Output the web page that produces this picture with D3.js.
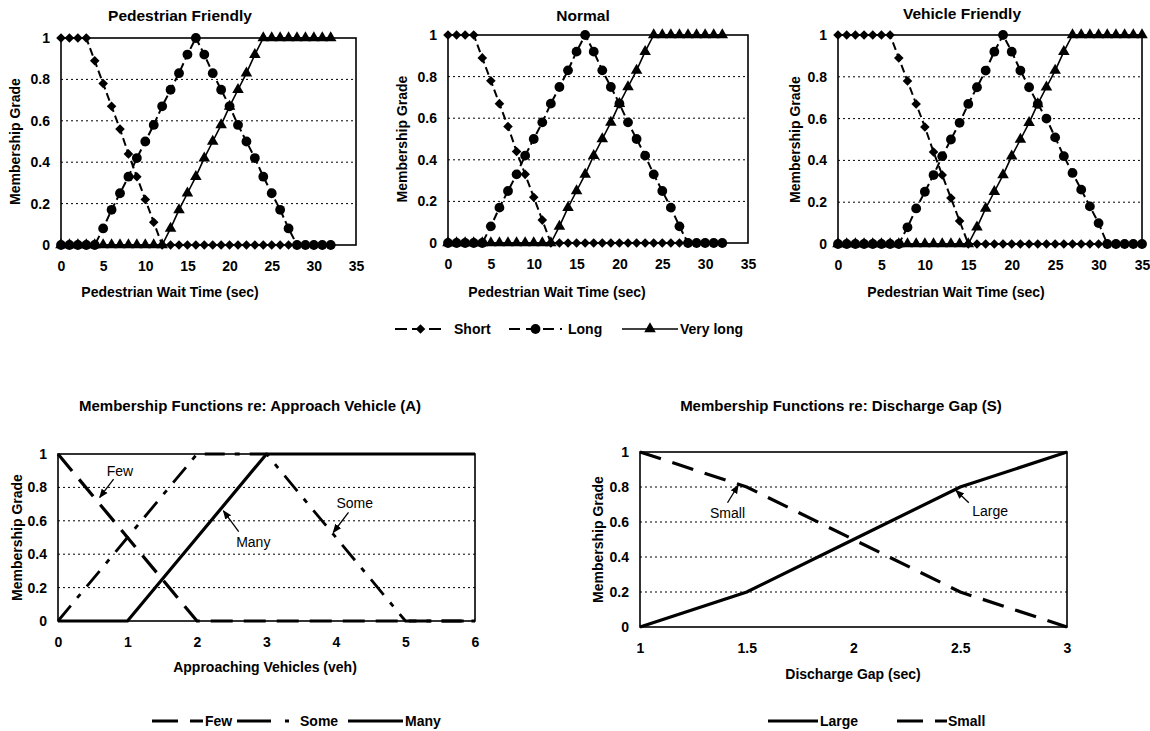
<!DOCTYPE html>
<html>
<head>
<meta charset="utf-8">
<script src="https://cdn.jsdelivr.net/npm/d3@7"></script>
<style>
  body { margin: 0; background: #fff; }
  svg { display: block; font-family: "Liberation Sans", Arial, sans-serif; }
</style>
</head>
<body>
<script>
// ---- data ----
const waitTimes32 = [0,1,2,3,4,5,6,7,8,9,10,11,12,13,14,15,16,17,18,19,20,21,22,23,24,25,26,27,28,29,30,31,32];
const waitTimes35 = [0,1,2,3,4,5,6,7,8,9,10,11,12,13,14,15,16,17,18,19,20,21,22,23,24,25,26,27,28,29,30,31,32,33,34,35];
const waitTicks = [0,5,10,15,20,25,30,35];
const gradeTicks = [0,0.2,0.4,0.6,0.8,1];
const gridTicks = [0.2,0.4,0.6,0.8];

// Pedestrian Friendly
const pfShort = [1,1,1,1,0.89,0.78,0.67,0.56,0.44,0.33,0.22,0.11,0,0,0,0,0,0,0,0,0,0,0,0,0,0,0,0,0,0,0,0,0];
const pfLong = [0,0,0,0,0,0.08,0.17,0.25,0.33,0.42,0.5,0.58,0.67,0.75,0.83,0.92,1,0.92,0.83,0.75,0.67,0.58,0.5,0.42,0.33,0.25,0.17,0.08,0,0,0,0,0];
const pfVeryLong = [0,0,0,0,0,0,0,0,0,0,0,0,0,0.08,0.17,0.25,0.33,0.42,0.5,0.58,0.67,0.75,0.83,0.92,1,1,1,1,1,1,1,1,1];

// Normal
const nmShort = [1,1,1,1,0.89,0.78,0.67,0.56,0.44,0.33,0.22,0.11,0,0,0,0,0,0,0,0,0,0,0,0,0,0,0,0,0,0,0,0,0];
const nmLong = [0,0,0,0,0,0.08,0.17,0.25,0.33,0.42,0.5,0.58,0.67,0.75,0.83,0.92,1,0.92,0.83,0.75,0.67,0.58,0.5,0.42,0.33,0.25,0.17,0.08,0,0,0,0,0];
const nmVeryLong = [0,0,0,0,0,0,0,0,0,0,0,0,0,0.08,0.17,0.25,0.33,0.42,0.5,0.58,0.67,0.75,0.83,0.92,1,1,1,1,1,1,1,1,1];

// Vehicle Friendly
const vfShort = [1,1,1,1,1,1,1,0.89,0.78,0.67,0.56,0.44,0.33,0.22,0.11,0,0,0,0,0,0,0,0,0,0,0,0,0,0,0,0,0,0,0,0,0];
const vfLong = [0,0,0,0,0,0,0,0,0.08,0.17,0.25,0.33,0.42,0.5,0.58,0.67,0.75,0.83,0.92,1,0.92,0.83,0.75,0.67,0.6,0.51,0.42,0.34,0.26,0.18,0.1,0,0,0,0,0];
const vfVeryLong = [0,0,0,0,0,0,0,0,0,0,0,0,0,0,0,0,0.08,0.17,0.25,0.33,0.42,0.5,0.58,0.67,0.75,0.83,0.92,1,1,1,1,1,1,1,1,1];

// Approach vehicles
const vehCounts = [0,1,2,3,4,5,6];
const fewGrade = [1,0.5,0,0,0,0,0];
const someGrade = [0,0.5,1,1,0.5,0,0];
const manyGrade = [0,0,0.5,1,1,1,1];

// Discharge gap
const gapSecs = [1,1.5,2,2.5,3];
const gapTicks = [1,1.5,2,2.5,3];
const largeGrade = [0,0.2,0.5,0.8,1];
const smallGrade = [1,0.8,0.5,0.2,0];

const width = 1150, height = 731;
const svg = d3.select("body").append("svg").attr("width", width).attr("height", height);

const defs = svg.append("defs");
defs.append("marker")
  .attr("id", "arrow")
  .attr("viewBox", "0 0 10 10")
  .attr("refX", 9).attr("refY", 5)
  .attr("markerWidth", 7).attr("markerHeight", 7)
  .attr("orient", "auto")
  .append("path").attr("d", "M0,1 L10,5 L0,9 Z").attr("fill", "#000");

function frame(g, x, y, box, xTicks, xFmt) {
  g.append("g").selectAll("line").data(gridTicks).join("line")
    .attr("x1", box.left).attr("x2", box.right)
    .attr("y1", d => y(d)).attr("y2", d => y(d))
    .attr("stroke", "#000").attr("stroke-width", 1).attr("stroke-dasharray", "2,3");

  g.append("rect")
    .attr("x", box.left).attr("y", box.top)
    .attr("width", box.right - box.left).attr("height", box.bottom - box.top)
    .attr("fill", "none").attr("stroke", "#000").attr("stroke-width", 1.6);

  const ax = g.append("g").attr("transform", `translate(0,${box.bottom})`)
    .call(d3.axisBottom(x).tickValues(xTicks).tickSize(0).tickPadding(box.xPad).tickFormat(xFmt));
  const ay = g.append("g").attr("transform", `translate(${box.left},0)`)
    .call(d3.axisLeft(y).tickValues(gradeTicks).tickSize(0).tickPadding(box.yPad).tickFormat(d => String(d)));
  [ax, ay].forEach(a => {
    a.select(".domain").remove();
    a.selectAll("text").attr("font-size", 14).attr("font-weight", "bold").attr("fill", "#000")
      .attr("font-family", "Liberation Sans, Arial, sans-serif");
  });

  g.append("text")
    .attr("x", box.titleX).attr("y", box.titleY)
    .attr("text-anchor", "middle").attr("font-size", box.titleSize).attr("font-weight", "bold")
    .text(box.title);
  g.append("text")
    .attr("x", box.xTitleX).attr("y", box.xTitleY)
    .attr("text-anchor", "middle").attr("font-size", 14).attr("font-weight", "bold")
    .text(box.xTitle);
  g.append("text")
    .attr("transform", `translate(${box.yTitleX},${(box.top + box.bottom) / 2}) rotate(-90)`)
    .attr("text-anchor", "middle").attr("dy", "0.35em").attr("font-size", 14).attr("font-weight", "bold")
    .text("Membership Grade");
}

const diamond = d3.symbol().type(d3.symbolSquare).size(46);
const triangle = d3.symbol().type(d3.symbolTriangle).size(58);

function drawMarker(sel, kind) {
  if (kind === "circle") {
    sel.append("circle").attr("r", 4.9).attr("fill", "#000");
  } else if (kind === "diamond") {
    sel.append("path").attr("d", diamond()).attr("transform", "rotate(45)").attr("fill", "#000");
  } else {
    sel.append("path").attr("d", triangle()).attr("fill", "#000");
  }
}

const topPanels = [
  { title: "Pedestrian Friendly", xs: waitTimes32, short: pfShort, long: pfLong, veryLong: pfVeryLong,
    left: 61, right: 356, top: 38, bottom: 245, titleX: 180, titleY: 21, xTitleX: 170, yTitleX: 15 },
  { title: "Normal", xs: waitTimes32, short: nmShort, long: nmLong, veryLong: nmVeryLong,
    left: 448, right: 748, top: 35, bottom: 243, titleX: 583, titleY: 21, xTitleX: 557, yTitleX: 402 },
  { title: "Vehicle Friendly", xs: waitTimes35, short: vfShort, long: vfLong, veryLong: vfVeryLong,
    left: 838, right: 1142, top: 35, bottom: 244, titleX: 962, titleY: 19, xTitleX: 956, yTitleX: 795 }
];

topPanels.forEach(p => {
  const g = svg.append("g");
  const x = d3.scaleLinear().domain([0, 35]).range([p.left, p.right]);
  const y = d3.scaleLinear().domain([0, 1]).range([p.bottom, p.top]);
  frame(g, x, y, Object.assign({ xPad: 16, yPad: 11, xTitleY: 297, titleSize: 15.5,
    xTitle: "Pedestrian Wait Time (sec)" }, p), waitTicks, d => d);

  const series = [
    { vals: p.short, marker: "diamond", dash: "8,4", w: 2 },
    { vals: p.long, marker: "circle", dash: "8,4", w: 2 },
    { vals: p.veryLong, marker: "triangle", dash: null, w: 1.6 }
  ];
  series.forEach(s => {
    const pts = p.xs.map((t, i) => [t, s.vals[i]]);
    g.append("path")
      .attr("d", d3.line().x(d => x(d[0])).y(d => y(d[1]))(pts))
      .attr("fill", "none").attr("stroke", "#000").attr("stroke-width", s.w)
      .attr("stroke-dasharray", s.dash);
    g.append("g").selectAll("g").data(pts).join("g")
      .attr("transform", d => `translate(${x(d[0])},${y(d[1])})`)
      .each(function () { drawMarker(d3.select(this), s.marker); });
  });
});

// top legend
const topLegend = [
  { label: "Short", marker: "diamond", dash: "12,5", x0: 395, x1: 446, tx: 454 },
  { label: "Long", marker: "circle", dash: "11,6", x0: 509, x1: 562, tx: 568 },
  { label: "Very long", marker: "triangle", dash: null, x0: 622, x1: 678, tx: 680 }
];
topLegend.forEach(l => {
  const g = svg.append("g");
  g.append("line").attr("x1", l.x0).attr("x2", l.x1).attr("y1", 329).attr("y2", 329)
    .attr("stroke", "#000").attr("stroke-width", l.dash ? 2 : 1.6).attr("stroke-dasharray", l.dash);
  const m = g.append("g").attr("transform", `translate(${(l.x0 + l.x1) / 2},329)`);
  drawMarker(m, l.marker);
  g.append("text").attr("x", l.tx).attr("y", 329).attr("dy", "0.35em")
    .attr("font-size", 14).attr("font-weight", "bold").text(l.label);
});

// ---- bottom panels ----
function annotate(g, x, y, notes) {
  notes.forEach(n => {
    g.append("text").attr("x", x(n.tx)).attr("y", y(n.ty)).attr("dy", "0.35em")
      .attr("text-anchor", "middle").attr("font-size", 14).text(n.text);
    g.append("line")
      .attr("x1", x(n.ax0)).attr("y1", y(n.ay0)).attr("x2", x(n.ax1)).attr("y2", y(n.ay1))
      .attr("stroke", "#000").attr("stroke-width", 1.3).attr("marker-end", "url(#arrow)");
  });
}

// Approach vehicle
{
  const box = { left: 58, right: 475, top: 454, bottom: 621, xPad: 16, yPad: 11,
    title: "Membership Functions  re: Approach Vehicle (A)", titleX: 250, titleY: 411, titleSize: 15,
    xTitle: "Approaching Vehicles (veh)", xTitleX: 265, xTitleY: 672, yTitleX: 17 };
  const g = svg.append("g");
  const x = d3.scaleLinear().domain([0, 6]).range([box.left, box.right]);
  const y = d3.scaleLinear().domain([0, 1]).range([box.bottom, box.top]);
  frame(g, x, y, box, vehCounts, d => d);
  const series = [
    { vals: fewGrade, dash: "22,11", w: 3.2 },
    { vals: someGrade, dash: "20,10,5,10", w: 2.8 },
    { vals: manyGrade, dash: null, w: 3.2 }
  ];
  series.forEach(s => {
    g.append("path")
      .attr("d", d3.line().x((d, i) => x(vehCounts[i])).y(d => y(d))(s.vals))
      .attr("fill", "none").attr("stroke", "#000").attr("stroke-width", s.w)
      .attr("stroke-dasharray", s.dash);
  });
  annotate(g, x, y, [
    { text: "Few", tx: 0.89, ty: 0.9, ax0: 0.8, ay0: 0.85, ax1: 0.6, ay1: 0.74 },
    { text: "Many", tx: 2.81, ty: 0.47, ax0: 2.6, ay0: 0.535, ax1: 2.38, ay1: 0.66 },
    { text: "Some", tx: 4.27, ty: 0.705, ax0: 4.18, ay0: 0.65, ax1: 3.96, ay1: 0.53 }
  ]);

  const legend = [
    { label: "Few", dash: "26,12", w: 3.2, x0: 152, x1: 203, tx: 205 },
    { label: "Some", dash: "34,14,4,30", w: 3.2, x0: 237, x1: 292, tx: 300 },
    { label: "Many", dash: null, w: 3.2, x0: 348, x1: 403, tx: 405 }
  ];
  legend.forEach(l => {
    g.append("line").attr("x1", l.x0).attr("x2", l.x1).attr("y1", 721).attr("y2", 721)
      .attr("stroke", "#000").attr("stroke-width", l.w).attr("stroke-dasharray", l.dash);
    g.append("text").attr("x", l.tx).attr("y", 721).attr("dy", "0.35em")
      .attr("font-size", 14).attr("font-weight", "bold").text(l.label);
  });
}

// Discharge gap
{
  const box = { left: 640, right: 1067, top: 452, bottom: 627, xPad: 16, yPad: 11,
    title: "Membership Functions  re: Discharge Gap (S)", titleX: 841, titleY: 411, titleSize: 15,
    xTitle: "Discharge Gap (sec)", xTitleX: 853, xTitleY: 679, yTitleX: 598 };
  const g = svg.append("g");
  const x = d3.scaleLinear().domain([1, 3]).range([box.left, box.right]);
  const y = d3.scaleLinear().domain([0, 1]).range([box.bottom, box.top]);
  frame(g, x, y, box, gapTicks, d => String(d));
  const series = [
    { vals: largeGrade, dash: null, w: 3.2 },
    { vals: smallGrade, dash: "22,12", w: 3.2 }
  ];
  series.forEach(s => {
    g.append("path")
      .attr("d", d3.line().x((d, i) => x(gapSecs[i])).y(d => y(d))(s.vals))
      .attr("fill", "none").attr("stroke", "#000").attr("stroke-width", s.w)
      .attr("stroke-dasharray", s.dash);
  });
  annotate(g, x, y, [
    { text: "Small", tx: 1.41, ty: 0.65, ax0: 1.41, ay0: 0.71, ax1: 1.46, ay1: 0.81 },
    { text: "Large", tx: 2.64, ty: 0.665, ax0: 2.54, ay0: 0.71, ax1: 2.48, ay1: 0.78 }
  ]);

  const legend = [
    { label: "Large", dash: null, w: 3.2, x0: 768, x1: 818, tx: 820 },
    { label: "Small", dash: "26,12", w: 3.2, x0: 897, x1: 947, tx: 948 }
  ];
  legend.forEach(l => {
    g.append("line").attr("x1", l.x0).attr("x2", l.x1).attr("y1", 721).attr("y2", 721)
      .attr("stroke", "#000").attr("stroke-width", l.w).attr("stroke-dasharray", l.dash);
    g.append("text").attr("x", l.tx).attr("y", 721).attr("dy", "0.35em")
      .attr("font-size", 14).attr("font-weight", "bold").text(l.label);
  });
}
</script>
</body>
</html>
